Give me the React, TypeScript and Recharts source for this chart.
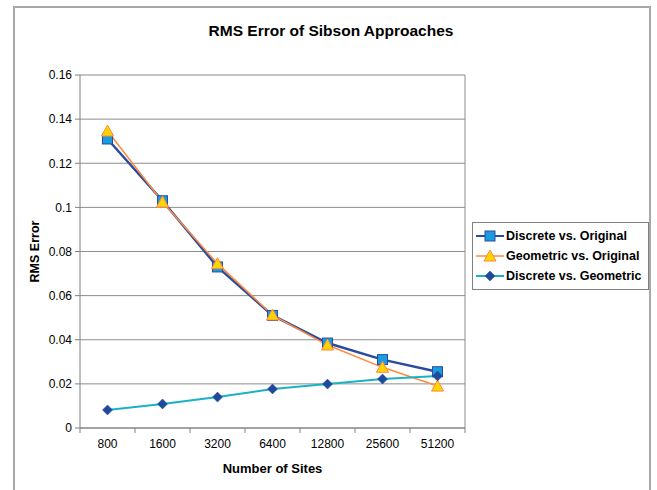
import React from 'react';
import { LineChart, Line, XAxis, YAxis, CartesianGrid } from 'recharts';

const categories = ['800', '1600', '3200', '6400', '12800', '25600', '51200'];
const discreteVsOriginal = [0.131, 0.103, 0.073, 0.051, 0.0385, 0.031, 0.0255];
const geometricVsOriginal = [0.1346, 0.1024, 0.0745, 0.0512, 0.0376, 0.0275, 0.019];
const discreteVsGeometric = [0.0082, 0.0109, 0.014, 0.0177, 0.0199, 0.0222, 0.0236];
const yTicks = [0, 0.02, 0.04, 0.06, 0.08, 0.1, 0.12, 0.14, 0.16];

const seriesNames = ['Discrete vs. Original', 'Geometric vs. Original', 'Discrete vs. Geometric'];

const data = categories.map((c, i) => ({
  name: c,
  dvo: discreteVsOriginal[i],
  gvo: geometricVsOriginal[i],
  dvg: discreteVsGeometric[i],
}));

const FONT = '"Liberation Sans", Arial, Helvetica, sans-serif';

const BLUE_LINE = '#2b4c9e';
const BLUE_FILL = '#1a9de0';
const ORANGE_LINE = '#ff8a3d';
const YELLOW_FILL = '#ffd400';
const TEAL_LINE = '#19b2c4';
const NAVY = '#1f4a9c';

const Square = (props: any) => {
  const { cx, cy } = props;
  if (cx == null || cy == null) return null;
  return <rect x={cx - 5} y={cy - 5} width={10} height={10} fill={BLUE_FILL} stroke={BLUE_LINE} strokeWidth={1} />;
};

const Triangle = (props: any) => {
  const { cx, cy } = props;
  if (cx == null || cy == null) return null;
  return (
    <path
      d={`M${cx},${cy - 6} L${cx + 6},${cy + 5} L${cx - 6},${cy + 5} Z`}
      fill={YELLOW_FILL}
      stroke={ORANGE_LINE}
      strokeWidth={1}
    />
  );
};

const Diamond = (props: any) => {
  const { cx, cy } = props;
  if (cx == null || cy == null) return null;
  return <path d={`M${cx},${cy - 5} L${cx + 5},${cy} L${cx},${cy + 5} L${cx - 5},${cy} Z`} fill={NAVY} stroke={NAVY} strokeWidth={0.5} />;
};

const XTick = (props: any) => {
  const { x, y, payload, index, visibleTicksCount, width } = props;
  const half = payload && payload.offset ? payload.offset : width / visibleTicksCount / 2;
  const axisY = y - 11;
  return (
    <g>
      <line x1={x - half} x2={x - half} y1={axisY} y2={axisY + 5} stroke="#808080" />
      {index === visibleTicksCount - 1 && (
        <line x1={x + half} x2={x + half} y1={axisY} y2={axisY + 5} stroke="#808080" />
      )}
      <text x={x} y={y} dy={9} textAnchor="middle" fontSize={12} fontFamily={FONT} fill="#000">
        {payload.value}
      </text>
    </g>
  );
};

const LegendIcon = ({ idx }: { idx: number }) => {
  const color = idx === 0 ? BLUE_LINE : idx === 1 ? ORANGE_LINE : TEAL_LINE;
  const Marker = idx === 0 ? Square : idx === 1 ? Triangle : Diamond;
  return (
    <svg width={30} height={14} style={{ display: 'block' }}>
      <line x1={1} x2={29} y1={7} y2={7} stroke={color} strokeWidth={idx === 1 ? 1.5 : 2} />
      <Marker cx={15} cy={7} />
    </svg>
  );
};

const YLabel = (props: any) => {
  const { viewBox } = props;
  const x = viewBox.x + 15;
  const y = viewBox.y + viewBox.height / 2;
  return (
    <text x={x} y={y} transform={`rotate(-90, ${x}, ${y})`} textAnchor="middle" dominantBaseline="central"
      fontSize={12.5} fontWeight="bold" fontFamily={FONT} fill="#000">
      RMS Error
    </text>
  );
};

export default function App() {
  return (
    <div style={{ position: 'absolute', left: 0, top: 0, width: 657, height: 490, background: '#fff', overflow: 'hidden' }}>
      <div
        style={{
          position: 'absolute',
          left: 13,
          top: 22,
          width: 636,
          textAlign: 'center',
          fontFamily: FONT,
          fontWeight: 'bold',
          fontSize: 15.5,
          color: '#000',
        }}
      >
        RMS Error of Sibson Approaches
      </div>
      <div style={{ position: 'absolute', left: 0, top: 0 }}>
        <LineChart width={657} height={490} data={data} margin={{ top: 75, right: 192, bottom: 14, left: 20 }}>
          <CartesianGrid
            stroke="#8c8c8c"
            vertical={true}
            verticalCoordinatesGenerator={({ offset }: any) => [offset.left + offset.width]}
          />
          <XAxis
            dataKey="name"
            scale="band"
            height={48}
            stroke="#808080"
            tickLine={false}
            tick={<XTick />}
            tickMargin={6}
            tickSize={5}
            interval={0}
            label={{ value: 'Number of Sites', position: 'insideBottom', offset: 3, fontSize: 13, fontWeight: 'bold', fontFamily: FONT, fill: '#000' }}
          />
          <YAxis
            width={60}
            domain={[0, 0.16]}
            ticks={yTicks}
            interval={0}
            stroke="#808080"
            tickSize={5}
            tickMargin={3}
            tick={{ fontSize: 12, fontFamily: FONT, fill: '#000' }}
            tickFormatter={(v: number) => String(v)}
            label={<YLabel />}
          />
          <Line name={seriesNames[0]} dataKey="dvo" stroke={BLUE_LINE} strokeWidth={2.5} dot={<Square />} activeDot={false} isAnimationActive={false} />
          <Line name={seriesNames[1]} dataKey="gvo" stroke={ORANGE_LINE} strokeWidth={1.5} dot={<Triangle />} activeDot={false} isAnimationActive={false} />
          <Line name={seriesNames[2]} dataKey="dvg" stroke={TEAL_LINE} strokeWidth={2} dot={<Diamond />} activeDot={false} isAnimationActive={false} />
        </LineChart>
      </div>
      <div
        style={{
          position: 'absolute',
          left: 472,
          top: 222,
          width: 177,
          border: '1px solid #808080',
          background: '#fff',
          padding: '3px 0 3px 2px',
          fontFamily: FONT,
          fontWeight: 'bold',
          fontSize: 12.5,
          boxSizing: 'border-box',
        }}
      >
        {seriesNames.map((n, i) => (
          <div key={n} style={{ display: 'flex', alignItems: 'center', height: 20 }}>
            <LegendIcon idx={i} />
            <span style={{ marginLeft: 1, whiteSpace: 'nowrap' }}>{n}</span>
          </div>
        ))}
      </div>
      <div
        style={{
          position: 'absolute',
          left: 13,
          top: 6,
          width: 634,
          height: 520,
          borderTop: '2px solid #a8a8a8',
          borderLeft: '2px solid #a8a8a8',
          borderRight: '2px solid #a8a8a8',
          pointerEvents: 'none',
        }}
      />
    </div>
  );
}
